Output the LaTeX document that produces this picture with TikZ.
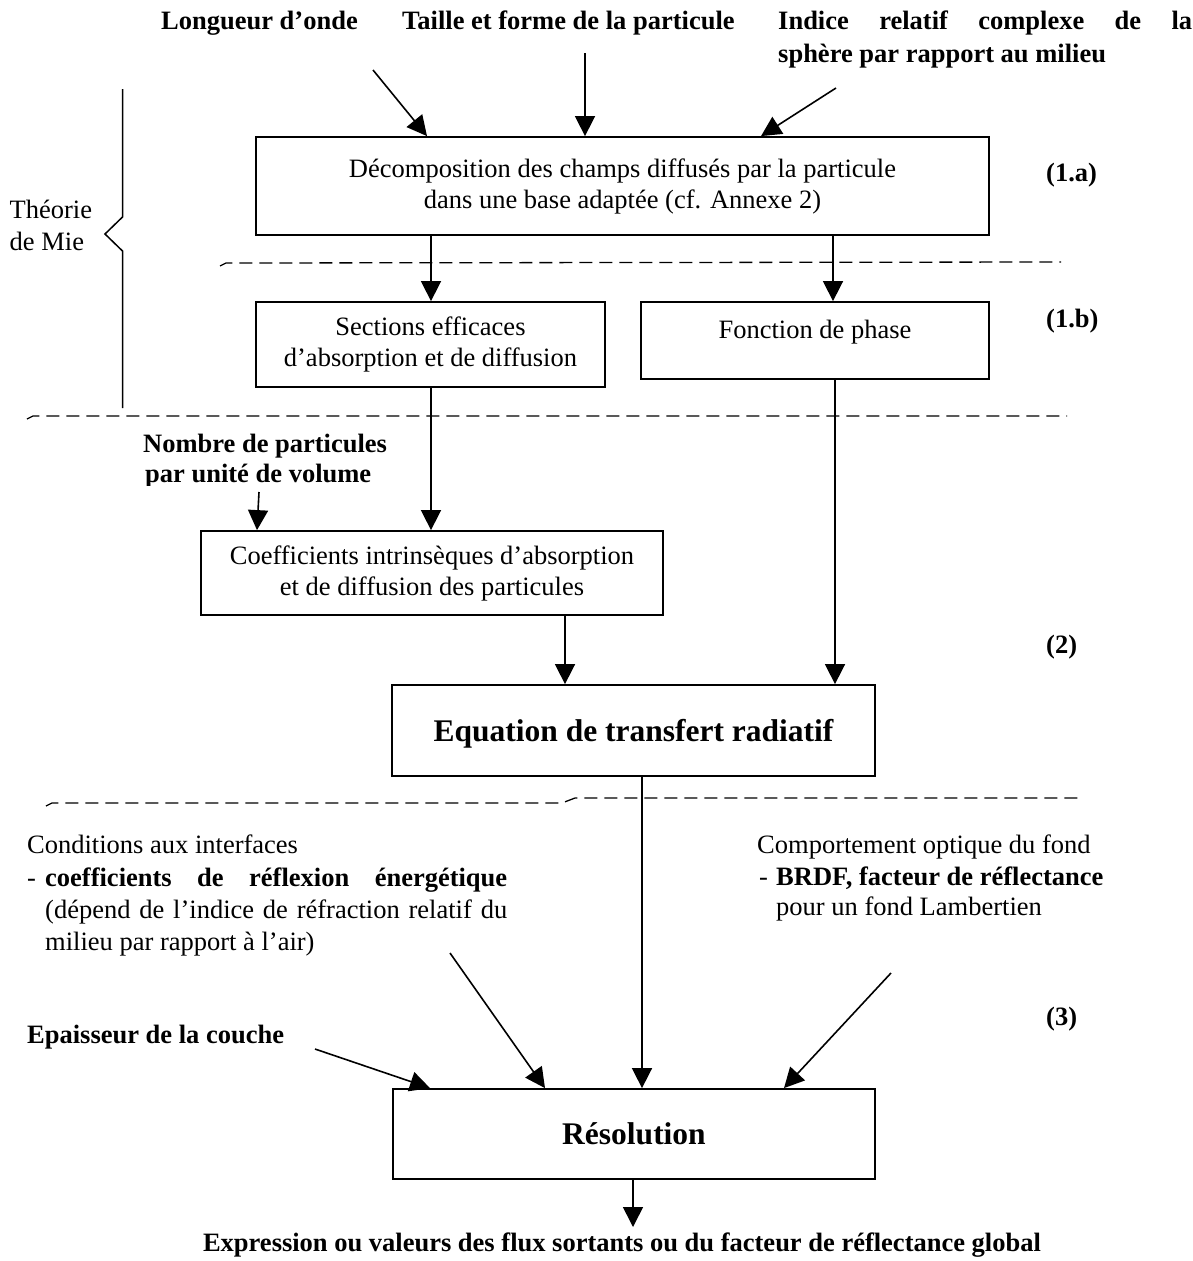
\documentclass[tikz,border=0pt]{standalone}
\usepackage{fontspec}
\setmainfont{Liberation Serif}
\usetikzlibrary{arrows.meta}
\newcommand\myfn{\fontsize{26.5}{31}\selectfont}
\newcommand\myfl{\fontsize{31.5}{36}\selectfont\bfseries}
\begin{document}
\begin{tikzpicture}[x=1pt,y=-1pt,
  box/.style={draw, line width=1.8pt, inner sep=0pt, align=center, font=\myfn},
  bigbox/.style={draw, line width=1.8pt, inner sep=0pt, align=center, font=\myfl, text depth=0pt},
  arr/.style={line width=1.6pt, -{Triangle[length=20pt,width=20pt]}},
  dline/.style={line width=1.3pt, dash pattern=on 13pt off 7pt},
  lab/.style={inner sep=0pt, anchor=base west, font=\myfn},
  blab/.style={inner sep=0pt, anchor=base west, font=\myfn\bfseries}]
\useasboundingbox (0,0) rectangle (1193,1261);

% top labels
\node[blab] (wl) at (161,29) {Longueur d’onde};
\node[blab] (ts) at (402,29) {Taille et forme de la particule};
\node[blab] (ir1) at (778,29) {\makebox[414pt][s]{Indice relatif complexe de la}};
\node[blab] (ir2) at (778,62) {sphère par rapport au milieu};

% boxes
\node[box, minimum width=733pt, minimum height=98pt] (A) at (622.5,186)
  {Décomposition des champs diffusés par la particule\\dans une base adaptée (cf. Annexe 2)};
\node[box, minimum width=349pt, minimum height=85pt] (B1) at (430.5,344.5)
  {Sections efficaces\\d’absorption et de diffusion};
\node[box, minimum width=348pt, minimum height=77pt, text depth=22pt] (B2) at (815,340.5)
  {Fonction de phase};
\node[box, minimum width=462pt, minimum height=84pt] (C) at (432,573)
  {Coefficients intrinsèques d’absorption\\et de diffusion des particules};
\node[bigbox, minimum width=483pt, minimum height=91pt] (D) at (633.5,730.5)
  {Equation de transfert radiatif};
\node[bigbox, minimum width=482pt, minimum height=90pt] (E) at (634,1134)
  {Résolution};

% side labels
\node[lab] (th1) at (9.5,218) {Théorie};
\node[lab] (th2) at (9.5,250) {de Mie};
\node[blab] (l1a) at (1046,181) {(1.a)};
\node[blab] (l1b) at (1046,327) {(1.b)};
\node[blab] (l2) at (1046,653) {(2)};
\node[blab] (l3) at (1046,1025) {(3)};

% brace
\draw[line width=1.5pt] (122.5,89) -- (122.5,217) -- (105,234) -- (122.5,251) -- (122.5,408);

% dashed separators
\draw[dline] (220,266) -- (226,263) -- (1061,262);
\draw[dline] (27,419) -- (33,416) -- (1067,416);
\draw[dline] (46,806) -- (52,803) -- (562,803) -- (575,798) -- (1084,798);

% number of particles (clipped as in the original)
\begin{scope}
\clip (100,420) rectangle (420,485);
\node[blab] (np1) at (143,452) {Nombre de particules};
\node[blab] (np2) at (145,482) {par unité de volume};
\end{scope}

% lower texts
\node[lab] (ci1) at (27,853) {Conditions aux interfaces};
\node[lab] (ci2d) at (27,886) {-};
\node[blab] (ci2) at (45,886) {\makebox[462pt][s]{coefficients de réflexion énergétique}};
\node[lab] (ci3) at (45,918) {\makebox[462pt][s]{(dépend de l’indice de réfraction relatif du}};
\node[lab] (ci4) at (45,950) {milieu par rapport à l’air)};

\node[lab] (cf1) at (757,853) {Comportement optique du fond};
\node[lab] (cf2d) at (759,885) {-};
\node[blab] (cf2) at (776,885) {BRDF, facteur de réflectance};
\node[lab] (cf3) at (776,915) {pour un fond Lambertien};

\node[blab] (ep) at (27,1043) {Epaisseur de la couche};
\node[inner sep=0pt, anchor=base, font=\myfn\bfseries] (ex) at (622,1251)
  {Expression ou valeurs des flux sortants ou du facteur de réflectance global};

% coordinates for connector ends
\coordinate (wlS) at (373,70);
\coordinate (tsS) at (585,53);
\coordinate (irS) at (836,88);
\coordinate (x427) at (427,0);
\coordinate (x585) at (585,0);
\coordinate (x761) at (761,0);
\coordinate (x431) at (431,0);
\coordinate (x833) at (833,0);
\coordinate (x835) at (835,0);
\coordinate (npS) at (259,492);
\coordinate (x257) at (257,0);
\coordinate (x565) at (565,0);
\coordinate (x642) at (642,0);
\coordinate (epS) at (315,1049);
\coordinate (ciS) at (450,953);
\coordinate (cfS) at (891,973);
\coordinate (x430) at (430,0);
\coordinate (x545) at (545,0);
\coordinate (x784) at (784,0);
\coordinate (x633) at (633,0);
\coordinate (exT) at (633,1227);

% connectors
\draw[arr] (wlS) -- (x427 |- A.north);
\draw[arr] (tsS) -- (x585 |- A.north);
\draw[arr] (irS) -- (x761 |- A.north);
\draw[arr] (x431 |- A.south) -- (x431 |- B1.north);
\draw[arr] (x833 |- A.south) -- (x833 |- B2.north);
\draw[arr] (x431 |- B1.south) -- (x431 |- C.north);
\draw[arr] (x835 |- B2.south) -- (x835 |- D.north);
\draw[arr] (npS) -- (x257 |- C.north);
\draw[arr] (x565 |- C.south) -- (x565 |- D.north);
\draw[arr] (x642 |- D.south) -- (x642 |- E.north);
\draw[arr] (epS) -- (x430 |- E.north);
\draw[arr] (ciS) -- (x545 |- E.north);
\draw[arr] (cfS) -- (x784 |- E.north);
\draw[arr] (x633 |- E.south) -- (exT);
\end{tikzpicture}
\end{document}
